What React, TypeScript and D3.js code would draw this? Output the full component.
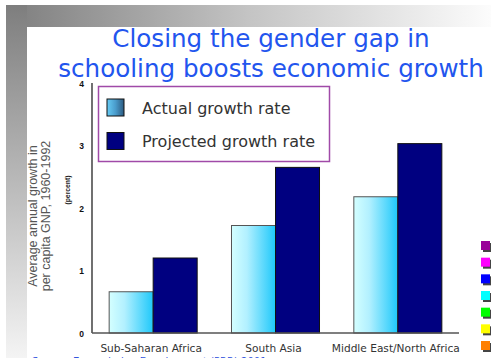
import React from "react";
import * as d3 from "d3";

const categories = ["Sub-Saharan Africa", "South Asia", "Middle East/North Africa"];
const seriesNames = ["Actual growth rate", "Projected growth rate"];
const actual = [0.66, 1.72, 2.18];
const projected = [1.2, 2.65, 3.03];
const yTicks = [0, 1, 2, 3, 4];
const titleLines = ["Closing the gender gap in", "schooling boosts economic growth"];
const yTitleLines = ["Average annual growth in", "per capita GNP, 1960-1992"];
const yUnit = "(percent)";
const sourceText = "Source: Engendering Development (PRR) 2001";
const sideColors = ["#990099", "#ff00ff", "#0000ff", "#00ffff", "#00ff00", "#ffff00", "#ff8000"];

const W = 491;
const H = 358;

export default function App() {
  const x0 = d3.scaleBand<string>().domain(categories).range([92, 459]).padding(0);
  const x1 = d3
    .scaleBand<string>()
    .domain(seriesNames)
    .range([0, x0.bandwidth()])
    .paddingInner(0)
    .paddingOuter(0.39);
  const y = d3.scaleLinear().domain([0, 4]).range([333, 83]);
  const sideY = d3.scaleLinear().domain([0, 6]).range([241, 341]);

  const data = categories.map((c, i) => ({ c, vals: [actual[i], projected[i]] }));

  return (
    <div style={{ position: "fixed", left: 0, top: 0 }}>
      <svg width={W} height={H} style={{ display: "block" }}>
        <defs>
          <linearGradient id="topBand" x1="0" y1="0" x2="1" y2="0">
            <stop offset="0" stopColor="#7e7e7e" />
            <stop offset="0.5" stopColor="#c4c4c4" />
            <stop offset="1" stopColor="#fcfcfc" />
          </linearGradient>
          <linearGradient id="leftBand" x1="0" y1="0" x2="0" y2="1">
            <stop offset="0" stopColor="#7e7e7e" />
            <stop offset="1" stopColor="#f4f4f4" />
          </linearGradient>
          <linearGradient id="barGrad" x1="0" y1="0" x2="1" y2="0">
            <stop offset="0" stopColor="#d4ffff" />
            <stop offset="0.35" stopColor="#b2f0ff" />
            <stop offset="1" stopColor="#1ec8fa" />
          </linearGradient>
          <linearGradient id="legGrad" x1="0" y1="0" x2="1" y2="0">
            <stop offset="0" stopColor="#66ccf5" />
            <stop offset="0.5" stopColor="#4a9ccc" />
            <stop offset="1" stopColor="#2c5a80" />
          </linearGradient>
        </defs>
        <rect x={0} y={0} width={W} height={H} fill="#ffffff" />
        <rect x={6} y={5} width={W - 6} height={22} fill="url(#topBand)" />
        <rect x={6} y={5} width={21} height={H - 5} fill="url(#leftBand)" />

        {titleLines.map((t, i) => (
          <text
            key={t}
            x={271}
            y={46.5 + i * 30}
            textAnchor="middle"
            fontFamily="DejaVu Sans"
            fontSize={24.6}
            fill="#2255ee"
          >
            {t}
          </text>
        ))}

        {/* y axis title */}
        {yTitleLines.map((t, i) => (
          <text
            key={t}
            transform={`translate(${37 + i * 13},216) rotate(-90)`}
            textAnchor="middle"
            fontFamily="Liberation Sans"
            fontSize={12.5}
            fill="#555555"
          >
            {t}
          </text>
        ))}
        <text
          transform={`translate(70,190) rotate(-90)`}
          textAnchor="middle"
          fontFamily="Liberation Sans"
          fontWeight="bold"
          fontSize={6.8}
          fill="#222222"
        >
          {yUnit}
        </text>

        {/* bars */}
        {data.map((d) => (
          <g key={d.c} transform={`translate(${x0(d.c)},0)`}>
            {d.vals.map((v, j) => (
              <rect
                key={j}
                x={x1(seriesNames[j])}
                y={y(v)}
                width={x1.bandwidth()}
                height={y(0) - y(v)}
                fill={j === 0 ? "url(#barGrad)" : "#000080"}
                stroke={j === 0 ? "#555555" : "#111111"}
                strokeWidth={1}
              />
            ))}
          </g>
        ))}

        {/* axes */}
        <line x1={92} x2={92} y1={y(4)} y2={y(0)} stroke="#111" strokeWidth={1.2} />
        <line x1={92} x2={459} y1={y(0)} y2={y(0)} stroke="#555" strokeWidth={1.5} />
        {yTicks.map((t) => (
          <text
            key={t}
            x={84}
            y={y(t) + 3.5}
            textAnchor="end"
            fontFamily="Liberation Sans"
            fontWeight="bold"
            fontSize={8.5}
            fill="#111"
          >
            {t}
          </text>
        ))}
        {categories.map((c) => (
          <text
            key={c}
            x={(x0(c) as number) + x0.bandwidth() / 2 - 2}
            y={352}
            textAnchor="middle"
            fontFamily="DejaVu Sans"
            fontSize={10.6}
            fill="#333"
          >
            {c}
          </text>
        ))}

        {/* legend */}
        <rect x={98.5} y={86.5} width={231} height={75} fill="#ffffff" stroke="#a04aa8" strokeWidth={1.5} />
        {seriesNames.map((s, i) => (
          <g key={s}>
            <rect
              x={107}
              y={99 + i * 33.5}
              width={17}
              height={17}
              fill={i === 0 ? "url(#legGrad)" : "#000080"}
              stroke="#111"
              strokeWidth={1}
            />
            <text
              x={142}
              y={113.5 + i * 33.5}
              fontFamily="DejaVu Sans"
              fontSize={16}
              fill="#333"
            >
              {s}
            </text>
          </g>
        ))}

        {/* side squares */}
        {sideColors.map((c, i) => (
          <g key={c}>
            <rect x={483} y={sideY(i) + 2} width={9} height={9} fill="#444" />
            <rect x={481} y={sideY(i)} width={9} height={9} fill={c} />
          </g>
        ))}

        {/* source (cut off at the bottom edge, as in the reference) */}
        <text x={32} y={365} fontFamily="DejaVu Sans" fontSize={10} fill="#3355dd">
          {sourceText}
        </text>
      </svg>
    </div>
  );
}
